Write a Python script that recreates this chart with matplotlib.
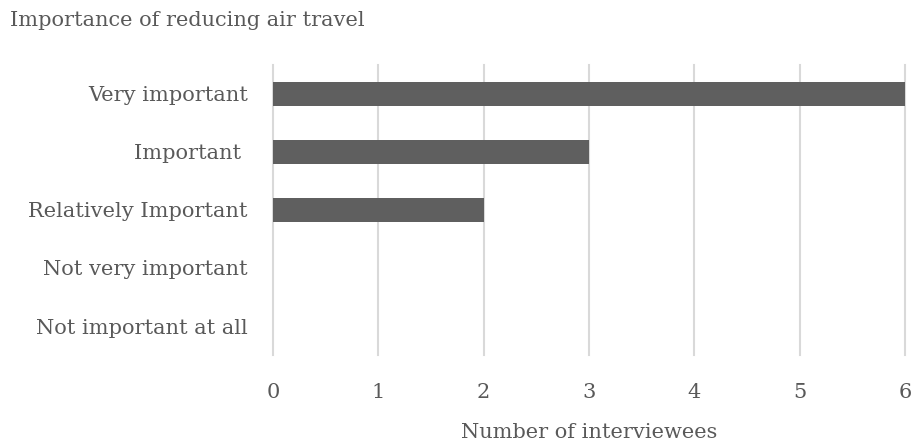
import matplotlib
matplotlib.use("Agg")
import matplotlib.pyplot as plt

categories = ["Very important", "Important ", "Relatively Important", "Not very important", "Not important at all"]
counts = [6, 3, 2, 0, 0]
xticks = [0, 1, 2, 3, 4, 5, 6]

TXT = "#595959"
plt.rcParams.update({"font.family": ["DejaVu Serif"], "font.size": 15})

fig = plt.figure(figsize=(9.12, 4.41), dpi=100)
ax = fig.add_axes([0.2993, 0.195, 0.6930, 0.6577])
ypos = range(len(categories))
ax.barh(ypos, counts, height=0.4, color="#5f5f5f", zorder=3)
ax.set_ylim(len(categories) - 0.5, -0.5)
ax.set_xlim(0, 6)
ax.set_yticks(list(ypos))
ax.set_yticklabels(categories, color=TXT)
ax.set_xticks(xticks)
ax.set_xticklabels([str(t) for t in xticks], color=TXT)
ax.tick_params(length=0, pad=20, axis="x")
ax.tick_params(length=0, pad=18, axis="y")
ax.xaxis.grid(True, color="#d9d9d9", linewidth=1.5, zorder=0)
for g in ax.get_xgridlines():
    g.set_clip_on(False)
for s in ax.spines.values():
    s.set_visible(False)
ax.set_xlabel("Number of interviewees", color=TXT, labelpad=15)
fig.text(10 / 912, 1 - 20 / 441, "Importance of reducing air travel", color=TXT, va="center", ha="left")
fig.savefig("out.png", dpi=100)
